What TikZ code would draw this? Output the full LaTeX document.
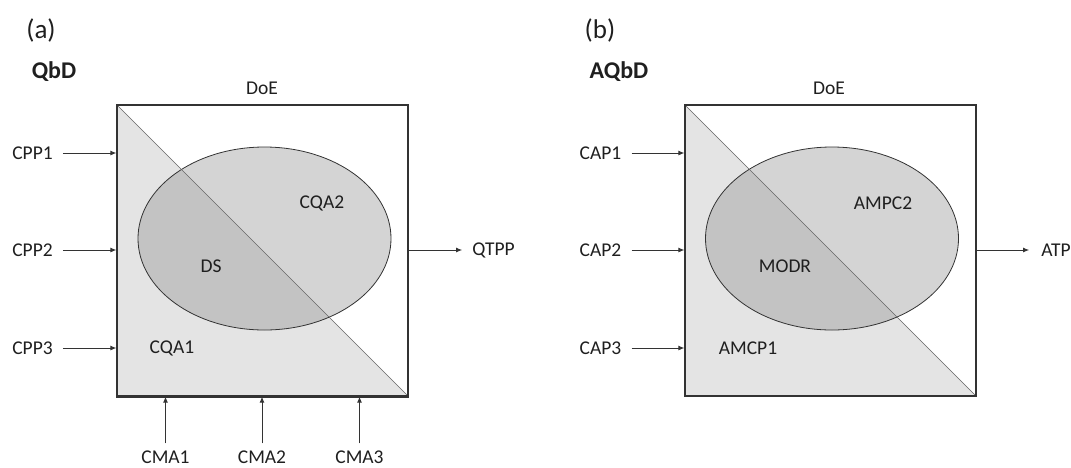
\documentclass[tikz,border=0pt]{standalone}
\usepackage{fontspec}
\setmainfont{Carlito}
\usetikzlibrary{shapes.geometric,arrows.meta}
\definecolor{linec}{gray}{0.2}
\definecolor{trif}{gray}{0.894}
\definecolor{ellf}{gray}{0.59}
\begin{document}
\begin{tikzpicture}[x=1pt,y=-1pt,
  lbl/.style={inner sep=0pt,font=\fontsize{19.5}{20}\selectfont,text=black!88},
  ttl/.style={inner sep=0pt,font=\fontsize{27}{28}\selectfont,text=black!88},
  sub/.style={inner sep=0pt,font=\fontsize{24}{25}\selectfont\bfseries,text=black!88},
  doebox/.style={draw=linec,line width=1.2pt,rectangle,minimum width=291pt,minimum height=291pt,inner sep=0pt},
  space/.style={draw=linec,line width=0.8pt,ellipse,fill=ellf,fill opacity=0.41,minimum width=253pt,minimum height=183pt,inner sep=0pt},
  diag/.style={draw=black!60,line width=0.7pt},
  arr/.style={draw=linec,line width=0.9pt,-{Latex[length=6pt,width=5pt]}}
]
\useasboundingbox (0,0) rectangle (1071,467);
% ---------- panel (a)
\node[ttl] (ta) at (41,30) {(a)};
\node[sub] (qbd) at (54,72) {QbD};
\node[doebox] (boxa) at (262.5,250.5) {};
\fill[trif] (boxa.north west) -- (boxa.south west) -- (boxa.south east) -- cycle;
\node[space] (ella) at (264.5,238.5) {};
\draw[diag] (boxa.north west) -- (boxa.south east);
\node[doebox] at (boxa) {};
\draw[linec,line width=1.8pt] (boxa.north west) -- (boxa.south west) -- (boxa.south east);
\node[lbl] (doea) at (262,88) {DoE};
\node[lbl] (cqa2) at (322,203) {CQA2};
\node[lbl] (ds) at (211,266) {DS};
\node[lbl] (cqa1) at (172,348) {CQA1};
\node[lbl] (cpp1) at (32.5,153) {CPP1};
\node[lbl] (cpp2) at (32.5,250) {CPP2};
\node[lbl] (cpp3) at (32.5,348) {CPP3};
\foreach \n in {cpp1,cpp2,cpp3}
  \draw[arr,shorten <=10pt] (\n.east) -- (\n.east -| boxa.west);
\node[lbl] (qtpp) at (493.5,250) {QTPP};
\draw[arr,shorten >=10pt] (qtpp.west -| boxa.east) -- (qtpp.west);
\node[lbl] (cma1) at (165.5,457) {CMA1};
\node[lbl] (cma2) at (262,457) {CMA2};
\node[lbl] (cma3) at (359.5,457) {CMA3};
\foreach \n in {cma1,cma2,cma3}
  \draw[arr,shorten <=7pt] (\n.north) -- (\n.north |- boxa.south);
% ---------- panel (b)
\node[ttl] (tb) at (600,30) {(b)};
\node[sub] (aqbd) at (619,72) {AQbD};
\node[doebox] (boxb) at (830.5,250.5) {};
\fill[trif] (boxb.north west) -- (boxb.south west) -- (boxb.south east) -- cycle;
\node[space] (ellb) at (832,238.5) {};
\draw[diag] (boxb.north west) -- (boxb.south east);
\node[doebox] at (boxb) {};
\node[lbl] (doeb) at (829,88) {DoE};
\node[lbl] (ampc2) at (883,203) {AMPC2};
\node[lbl] (modr) at (785,266) {MODR};
\node[lbl] (amcp1) at (748,348) {AMCP1};
\node[lbl] (cap1) at (600.5,153) {CAP1};
\node[lbl] (cap2) at (600.5,250) {CAP2};
\node[lbl] (cap3) at (600.5,348) {CAP3};
\foreach \n in {cap1,cap2,cap3}
  \draw[arr,shorten <=10pt] (\n.east) -- (\n.east -| boxb.west);
\node[lbl] (atp) at (1056,250) {ATP};
\draw[arr,shorten >=12pt] (atp.west -| boxb.east) -- (atp.west);
\end{tikzpicture}
\end{document}
